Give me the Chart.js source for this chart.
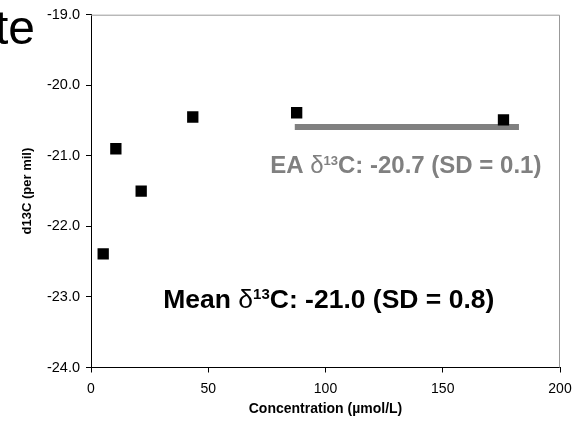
<!DOCTYPE html>
<html>
<head>
<meta charset="utf-8">
<script src="https://cdn.jsdelivr.net/npm/chart.js@4"></script>
<style>
  body { margin: 0; background: #fff; }
  #wrap { width: 588px; height: 426px; }
</style>
</head>
<body>
<div id="wrap"><canvas id="d13cChart" width="588" height="426"></canvas></div>
<script>
// measured values
const concentration = [5.2, 10.6, 21.4, 43.4, 87.7, 175.9];
const d13C = [-22.39, -20.9, -21.5, -20.45, -20.39, -20.49];
const eaX = [86.9, 182.5];
const eaY = [-20.59, -20.59];

const xTicks = [0, 50, 100, 150, 200];
const yTicks = [-24, -23, -22, -21, -20, -19];

const FONT = '"Liberation Sans", Arial, sans-serif';

// text labels placed in data units
const notes = [
  { x: 76.4, y: -21.24, pre: 'EA ', post: 'C: -20.7 (SD = 0.1)', size: 24, color: '#808080' },
  { x: 30.8, y: -23.15, pre: 'Mean ', post: 'C: -21.0 (SD = 0.8)', size: 26.5, color: '#000' }
];

const extras = {
  id: 'extras',
  beforeDatasetsDraw(chart) {
    const { ctx, chartArea: a } = chart;
    ctx.save();
    ctx.strokeStyle = '#999';
    ctx.lineWidth = 1;
    ctx.beginPath();
    ctx.moveTo(a.left, a.top + 0.5);
    ctx.lineTo(a.right - 0.5, a.top + 0.5);
    ctx.lineTo(a.right - 0.5, a.bottom);
    ctx.stroke();
    ctx.restore();
  },
  afterDraw(chart) {
    const { ctx, scales } = chart;
    ctx.save();
    ctx.textBaseline = 'alphabetic';
    notes.forEach(n => {
      let px = scales.x.getPixelForValue(n.x);
      const py = scales.y.getPixelForValue(n.y);
      const bold = 'bold ' + n.size + 'px ' + FONT;
      ctx.fillStyle = n.color;
      ctx.font = bold;
      ctx.fillText(n.pre, px, py);
      px += ctx.measureText(n.pre).width;
      ctx.font = n.size + 'px ' + FONT;
      ctx.fillText('\u03b4', px, py);
      px += ctx.measureText('\u03b4').width;
      ctx.font = 'bold ' + Math.round(n.size * 0.55) + 'px ' + FONT;
      ctx.fillText('13', px, py - n.size * 0.33);
      px += ctx.measureText('13').width;
      ctx.font = bold;
      ctx.fillText(n.post, px, py);
    });
    // clipped slide title behind the chart
    ctx.fillStyle = '#000';
    ctx.font = '48px ' + FONT;
    ctx.fillText('te', -5, 44);
    ctx.restore();
  }
};

new Chart(document.getElementById('d13cChart'), {
  type: 'scatter',
  data: {
    datasets: [
      {
        label: 'd13C',
        data: concentration.map((c, i) => ({ x: c, y: d13C[i] })),
        pointStyle: 'rect',
        pointRadius: 8,
        pointHoverRadius: 8,
        pointBorderWidth: 0,
        backgroundColor: '#000',
        order: 0
      },
      {
        type: 'line',
        label: 'EA',
        data: eaX.map((x, i) => ({ x: x, y: eaY[i] })),
        borderColor: '#808080',
        borderWidth: 6,
        pointRadius: 0,
        order: 1
      }
    ]
  },
  options: {
    responsive: false,
    animation: false,
    layout: { padding: { left: 0, top: 14, right: 28, bottom: 0 } },
    plugins: { legend: { display: false }, tooltip: { enabled: false } },
    scales: {
      x: {
        type: 'linear',
        min: 0, max: 200,
        afterBuildTicks: s => { s.ticks = xTicks.map(v => ({ value: v })); },
        afterFit: s => { s.height = 58.5; },
        ticks: { color: '#000', font: { family: FONT, size: 14 }, padding: 8, maxRotation: 0 },
        grid: { drawOnChartArea: false, tickLength: 5, tickColor: '#000' },
        border: { color: '#000', width: 1 },
        title: { display: true, text: 'Concentration (\u00b5mol/L)', color: '#000',
                 font: { family: FONT, size: 14, weight: 'bold' }, padding: { top: 4, bottom: 8 } }
      },
      y: {
        min: -24, max: -19,
        afterBuildTicks: s => { s.ticks = yTicks.map(v => ({ value: v })); },
        afterFit: s => { s.width = 91; },
        ticks: { color: '#000', font: { family: FONT, size: 14.5 }, padding: 6,
                 callback: v => v.toFixed(1) },
        grid: { drawOnChartArea: false, tickLength: 5, tickColor: '#000' },
        border: { color: '#000', width: 1 },
        title: { display: true, text: 'd13C (per mil)', color: '#000',
                 font: { family: FONT, size: 13, weight: 'bold' }, padding: { top: 20, bottom: 4 } }
      }
    }
  },
  plugins: [extras]
});
</script>
</body>
</html>
